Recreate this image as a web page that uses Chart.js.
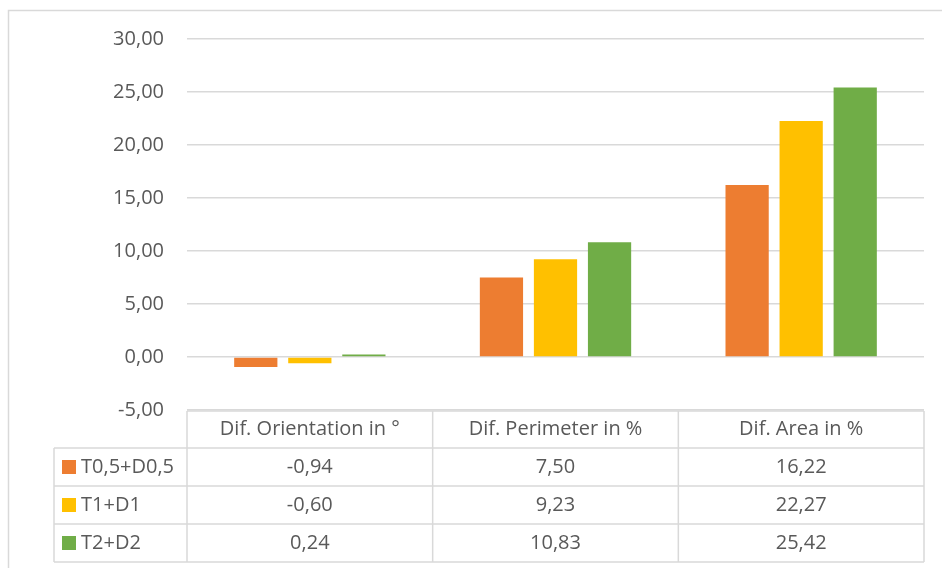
<!DOCTYPE html>
<html lang="en">
  <head>
    <meta charset="UTF-8" />
    <title>Differences chart</title>
    <style>
      body {
        margin: 0;
        background-color: #ffffff;
      }
      #wrap {
        position: relative;
        width: 942px;
        height: 568px;
      }
    </style>
    <script src="https://cdn.jsdelivr.net/npm/chart.js"></script>
  </head>
  <body>
    <div id="wrap"><canvas id="chart" width="942" height="568"></canvas></div>
    <script>
      const categories = ["Dif. Orientation in °", "Dif. Perimeter in %", "Dif. Area in %"];
      const seriesNames = ["T0,5+D0,5", "T1+D1", "T2+D2"];
      const seriesT05 = [-0.94, 7.5, 16.22];
      const seriesT1 = [-0.6, 9.23, 22.27];
      const seriesT2 = [0.24, 10.83, 25.42];
      const yTicks = [-5, 0, 5, 10, 15, 20, 25, 30];

      const colors = ["#ED7D31", "#FFC000", "#70AD47"];
      const textColor = "#595959";
      const lineColor = "#d9d9d9";
      const fontFamily = "'Open Sans', sans-serif";
      const fontSize = 20;

      // comma decimal, two places
      const fmt = (v) => v.toFixed(2).replace(".", ",");

      // Excel style data table under the plot
      const dataTable = {
        id: "dataTable",
        afterDraw(chart) {
          const ctx = chart.ctx;
          const x = chart.scales.x;
          const area = chart.chartArea;
          const band = (x.right - x.left) / categories.length;
          const headerH = 37;
          const rowH = 38;
          const legendLeft = 54;
          const top = area.bottom + 1;
          const bottom = top + headerH + rowH * seriesNames.length;

          ctx.save();
          ctx.strokeStyle = lineColor;
          ctx.lineWidth = 1.5;

          // horizontal lines
          ctx.beginPath();
          ctx.moveTo(x.left, top);
          ctx.lineTo(x.right, top);
          for (let r = 0; r <= seriesNames.length; r++) {
            const y = top + headerH + r * rowH;
            ctx.moveTo(legendLeft, y);
            ctx.lineTo(x.right, y);
          }
          // vertical lines
          ctx.moveTo(legendLeft, top + headerH);
          ctx.lineTo(legendLeft, bottom);
          for (let c = 0; c <= categories.length; c++) {
            const xx = x.left + c * band;
            ctx.moveTo(xx, top);
            ctx.lineTo(xx, bottom);
          }
          ctx.stroke();

          ctx.fillStyle = textColor;
          ctx.font = fontSize + "px " + fontFamily;
          ctx.textBaseline = "middle";
          ctx.textAlign = "center";
          categories.forEach((c, i) => {
            ctx.fillText(c, x.getPixelForValue(i), top + headerH / 2);
          });

          chart.data.datasets.forEach((ds, r) => {
            const cy = top + headerH + r * rowH + rowH / 2;
            ctx.fillStyle = ds.backgroundColor;
            ctx.fillRect(legendLeft + 8, cy - 7, 14, 14);
            ctx.fillStyle = textColor;
            ctx.textAlign = "left";
            ctx.fillText(ds.label, legendLeft + 27, cy);
            ctx.textAlign = "center";
            ds.data.forEach((v, i) => {
              ctx.fillText(fmt(v), x.getPixelForValue(i), cy);
            });
          });
          ctx.restore();
        },
      };

      // outer chart frame (top and left edges visible)
      const frame = {
        id: "frame",
        beforeDraw(chart) {
          const ctx = chart.ctx;
          ctx.save();
          ctx.strokeStyle = lineColor;
          ctx.lineWidth = 1.5;
          ctx.beginPath();
          ctx.moveTo(8.5, chart.height);
          ctx.lineTo(8.5, 10.5);
          ctx.lineTo(chart.width, 10.5);
          ctx.stroke();
          ctx.restore();
        },
      };

      new Chart(document.getElementById("chart"), {
        type: "bar",
        data: {
          labels: categories,
          datasets: [
            { label: seriesNames[0], data: seriesT05, backgroundColor: colors[0] },
            { label: seriesNames[1], data: seriesT1, backgroundColor: colors[1] },
            { label: seriesNames[2], data: seriesT2, backgroundColor: colors[2] },
          ],
        },
        options: {
          responsive: false,
          animation: false,
          datasets: {
            bar: { categoryPercentage: 0.66, barPercentage: 0.8 },
          },
          layout: { padding: { top: 39, right: 18, bottom: 158, left: 0 } },
          plugins: {
            legend: { display: false },
            tooltip: { enabled: false },
          },
          scales: {
            x: { display: false },
            y: {
              min: yTicks[0],
              max: yTicks[yTicks.length - 1],
              afterBuildTicks: (scale) => {
                scale.ticks = yTicks.map((v) => ({ value: v }));
              },
              afterFit: (scale) => {
                scale.width = 187;
              },
              border: { display: false },
              grid: { color: lineColor, lineWidth: 1.5, drawTicks: false },
              ticks: {
                padding: 23,
                color: textColor,
                font: { family: fontFamily, size: fontSize },
                callback: (v) => fmt(v),
              },
            },
          },
        },
        plugins: [dataTable, frame],
      });
    </script>
  </body>
</html>
